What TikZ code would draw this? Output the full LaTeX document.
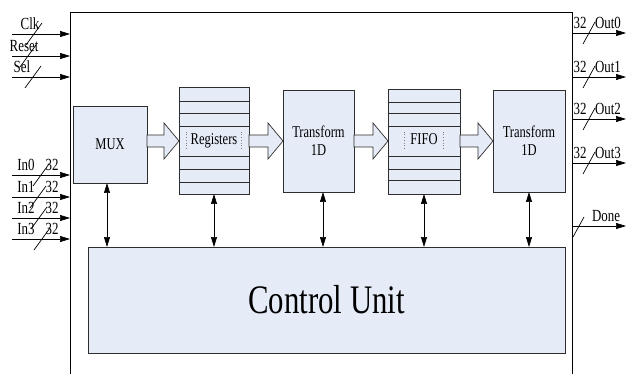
\documentclass[tikz,border=0pt]{standalone}
\usepackage{fontspec}
\setmainfont{Liberation Serif}[FakeStretch=0.76]
\usetikzlibrary{arrows.meta,calc}
\definecolor{boxfill}{RGB}{230,236,247}
\definecolor{boxline}{RGB}{45,45,45}
\newcommand\fatarr[2]{%
  \draw[fat] ($(#1.east|-ax)+(0,-6)$) -- ($(#2.west|-ax)+(-15,-6)$) -- ($(#2.west|-ax)+(-15,-18)$)
    -- (#2.west|-ax) -- ($(#2.west|-ax)+(-15,18)$) -- ($(#2.west|-ax)+(-15,6)$)
    -- ($(#1.east|-ax)+(0,6)$) -- cycle;}
\begin{document}
\begin{tikzpicture}[x=1pt,y=-1pt,
  box/.style={draw=boxline, fill=boxfill, line width=0.8pt, outer sep=0pt, inner sep=0pt,
    anchor=north west, font=\fontsize{16.5}{18}\selectfont, align=center},
  fat/.style={draw=boxline, fill=boxfill, line width=0.7pt},
  row/.style={draw=boxline, line width=0.7pt},
  dots/.style={draw=gray, dotted, line width=0.7pt},
  sig/.style={-{Triangle[length=10pt,width=6pt]}, line width=0.7pt},
  bi/.style={{Triangle[length=10pt,width=6pt]}-{Triangle[length=10pt,width=6pt]}, line width=0.7pt},
  slash/.style={line width=0.7pt},
  lab/.style={font=\fontsize{17}{19}\selectfont, anchor=base, inner sep=0pt},
  frame/.style={line width=0.8pt}]
\useasboundingbox (0,0) rectangle (629,374);
\coordinate (ax) at (0,141);
% frame
\coordinate (fbl) at (70,374);
\coordinate (ftl) at (70,12);
\coordinate (ftr) at (572,12);
\coordinate (fbr) at (572,374);
\draw[frame] (fbl) -- (ftl) -- (ftr) -- (fbr);
% boxes
\node[box, minimum width=74pt, minimum height=77pt] (mux) at (73,106) {MUX};
\node[box, minimum width=70pt, minimum height=107pt] (reg) at (179,87) {};
\node[box, minimum width=71pt, minimum height=102pt] (t1) at (283,90) {Transform\\1D};
\node[box, minimum width=72pt, minimum height=105pt] (fifo) at (388,89) {};
\node[box, minimum width=72pt, minimum height=102pt] (t2) at (493,90) {Transform\\1D};
\node[box, minimum width=477pt, minimum height=106pt, font=\fontsize{40.5}{42}\selectfont] (cu) at (88,247) {Control Unit};
% rows
\foreach \d in {14,26,39,69,82,95}
  \draw[row] ($(reg.north west)+(0,\d)$) -- ($(reg.north east)+(0,\d)$);
\foreach \d in {13,24,37,67,80,91}
  \draw[row] ($(fifo.north west)+(0,\d)$) -- ($(fifo.north east)+(0,\d)$);
% inner labels with dotted side lines
\node[font=\fontsize{16.5}{18}\selectfont, inner xsep=4pt, inner ysep=1.5pt, text height=11pt, text depth=4pt] (regt) at (reg.center |- ax) {Registers};
\draw[dots] (regt.north west) -- (regt.south west);
\draw[dots] (regt.north east) -- (regt.south east);
\node[font=\fontsize{16.5}{18}\selectfont, inner xsep=6pt, inner ysep=1.5pt, text height=11pt, text depth=4pt] (fifot) at (fifo.center |- ax) {FIFO};
\draw[dots] (fifot.north west) -- (fifot.south west);
\draw[dots] (fifot.north east) -- (fifot.south east);
% fat arrows
\fatarr{mux}{reg}
\fatarr{reg}{t1}
\fatarr{t1}{fifo}
\fatarr{fifo}{t2}
% control arrows
\draw[bi] ($(mux.south west)+(34,0)$) coordinate (c1) -- (c1 |- cu.north);
\draw[bi] (reg.south) -- (reg.south |- cu.north);
\draw[bi] ($(t1.south west)+(40,0)$) coordinate (c3) -- (c3 |- cu.north);
\draw[bi] (fifo.south) -- (fifo.south |- cu.north);
\draw[bi] (t2.south) -- (t2.south |- cu.north);
% inputs
\foreach \n/\y/\t/\lx/\sx in {clk/34/Clk/30/34, rst/56/Reset/24/28, sel/77/Sel/22/33}{
  \coordinate (\n s) at (12,\y);
  \draw[sig] (\n s) -- (\n s -| ftl);
  \node[lab] (\n l) at (\lx,\y-4) {\t};
  \draw[slash] (\sx-8,\y+11) -- (\sx+8,\y-11);
}
\foreach \n/\y/\t/\sx in {i0/175/In0/41, i1/197/In1/38, i2/218/In2/39, i3/239/In3/42}{
  \coordinate (\n s) at (12,\y);
  \draw[sig] (\n s) -- (\n s -| ftl);
  \node[lab] (\n l) at (26,\y-4) {\t};
  \node[lab] (\n w) at (52,\y-4) {32};
  \draw[slash] (\sx-8,\y+11) -- (\sx+8,\y-11);
}
% outputs
\foreach \n/\y/\t in {o0/33/Out0, o1/77/Out1, o2/119/Out2, o3/163/Out3}{
  \coordinate (\n e) at (626,\y);
  \draw[sig] (\n e -| ftr) -- (\n e);
  \node[lab] (\n w) at (580,\y-4) {32};
  \node[lab] (\n l) at (608,\y-4) {\t};
  \draw[slash] (583,\y+11) -- (595,\y-11);
}
\coordinate (done e) at (626,226);
\draw[sig] (done e -| ftr) -- (done e);
\node[lab] (done l) at (606,222) {Done};
\draw[slash] (573,237) -- (584,217);
\end{tikzpicture}
\end{document}
